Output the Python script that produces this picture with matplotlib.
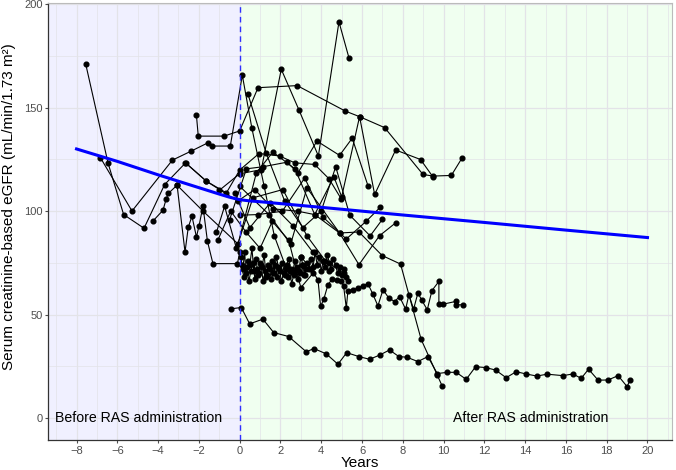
import matplotlib
matplotlib.use("Agg")
import matplotlib.pyplot as plt

plt.rcParams['font.family'] = ['Liberation Sans', 'DejaVu Sans']

# ---- trend line (blue) ----
trend_x = [-8, -6, -4, -2, -1, -0.5, 0, 0.5, 1, 4, 8, 12, 16, 20]
trend_y = [130, 124, 117.5, 111.3, 108.2, 106.7, 105.5, 104.9, 104.5, 101.8, 98.1, 94.5, 90.8, 87.2]

# ---- individual patient trajectories ----
p01_x = [-7.55, -6.45, -5.69, -4.69, -3.68, -2.65, -1.63, -0.1, 0.74, 1.63, 2.86, 3.68, 4.9, 5.85, 6.99, 7.89, 8.9, 9.69, 9.93]
p01_y = [171, 123, 98.3, 91.7, 112.8, 123.3, 114.4, 104.8, 110.4, 101.1, 99.9, 98.3, 89.4, 89.9, 78.5, 74.4, 38, 20.8, 15.5]

p02_x = [-6.83, -5.28, -3.3, -2.37, -1.55, -1.34, -0.46, 0.13, 0.6, 1.2, 1.7, 2.3]
p02_y = [125.8, 100, 124.6, 129, 133, 131.4, 131.4, 165.6, 140, 112, 88, 72]

p03_x = [-4.25, -3.76, -3.6, -3.5, -3.07, -2.68, -2.52, -2.34, -2.12, -1.99, -1.8, -1.58, -1.31, -0.11, 0.0]
p03_y = [95.2, 100.4, 106, 108.5, 112.5, 80.2, 92.2, 97.5, 87.5, 93, 102.3, 85.4, 74.6, 74.6, 80]

p04_x = [-2.12, -2.03, -0.77, 0.0, 0.9, 2.82, 5.18, 5.88, 7.11, 8.99, 9.48, 10.38, 10.91]
p04_y = [146.2, 136.2, 136.2, 138.7, 159.6, 160.6, 148.3, 145.6, 140.3, 117.7, 116.9, 117.2, 125.7]

p05_x = [-2.66, -1.63, -0.65, 0.0, 0.95, 1.96, 2.7, 3.68, 4.38, 4.98, 5.88, 6.62, 7.65, 8.87, 9.48]
p05_y = [123.3, 114.4, 108.8, 119.8, 127.8, 126.6, 123.3, 122.5, 115.6, 105.9, 145.6, 108, 129.5, 124.9, 116.5]

p06_x = [-0.41, 0.08, 0.49, 1.14, 1.67, 2.40, 3.27, 3.64, 4.25, 4.82, 5.25, 5.85, 6.37, 6.86, 7.35, 7.81, 8.2, 8.74, 9.23,
         9.69, 10.18, 10.62, 11.11, 11.57, 12.06, 12.55, 13.07, 13.56, 14.05, 14.57, 15.08, 15.85, 16.34, 16.75, 17.11,
         17.58, 18.07, 18.56, 19.0, 19.15]
p06_y = [52.8, 53.4, 45.5, 47.8, 41.3, 39.4, 32.0, 33.6, 31.0, 26.0, 31.6, 29.7, 28.4, 30.4, 32.9, 29.7, 29.4, 27.3, 29.7,
         21.5, 22.1, 22.1, 18.7, 24.8, 24.4, 23.2, 19.5, 22.4, 21.3, 20.3, 21.2, 20.5, 21.3, 19.2, 23.6,
         18.3, 18.4, 20.5, 15.2, 18.4]

p07_x = [0.05, 0.15, 0.25, 0.3, 0.4, 0.5, 0.6, 0.7, 0.8, 0.9, 1.0, 1.1, 1.2, 1.3, 1.4, 1.5, 1.6, 1.7, 1.8, 1.9, 2.0,
         2.1, 2.2, 2.3, 2.4, 2.5, 2.6, 2.7, 2.8, 2.9, 3.0, 3.1, 3.2, 3.3, 3.4, 3.5, 3.6, 3.7, 3.8, 3.9, 4.0, 4.1,
         4.2, 4.3, 4.4, 4.5, 4.6, 4.7, 4.8, 4.9, 5.0, 5.1, 5.2, 5.3]
p07_y = [78, 72, 80, 70, 76, 74, 82, 71, 77, 69, 75, 73, 79, 68, 74, 72, 76, 70, 78, 73, 71, 75, 69, 74, 77, 72,
         70, 76, 73, 71, 78, 74, 69, 75, 72, 77, 73, 80, 74, 78, 71, 76, 73, 79, 75, 72, 77, 74, 70, 73, 69, 72, 68, 66]

p08_x = [0.1, 0.2, 0.35, 0.45, 0.55, 0.65, 0.75, 0.85, 0.95, 1.05, 1.15, 1.25, 1.35, 1.45, 1.55, 1.65, 1.75, 1.85,
         1.95, 2.05, 2.15, 2.25, 2.35, 2.45, 2.55, 2.65, 2.75, 2.85, 2.95, 3.05, 3.15, 3.25]
p08_y = [74, 68, 73, 66, 71, 75, 67, 72, 70, 74, 66, 71, 69, 73, 67, 70, 74, 68, 72, 66, 70, 73, 68, 71, 65, 69,
         72, 67, 70, 74, 69, 72]

p09_x = [3.0, 3.5, 3.84, 3.97, 4.13, 4.33, 4.54, 4.77, 4.98, 5.1, 5.23, 5.31, 5.56, 5.8, 6.04, 6.29, 6.53, 6.78, 7.03,
         7.32, 7.6, 7.84, 8.14, 8.3, 8.53, 8.74, 8.94, 9.2, 9.43, 9.77, 9.77, 9.97, 10.62, 10.62, 10.95]
p09_y = [78, 72, 66.8, 53.9, 57.6, 64.4, 67.2, 66.8, 66, 63.6, 53.1, 61.6, 62, 62.8, 63.9, 64.9, 59.9, 54.2, 62,
         57.9, 56.3, 58.7, 52.6, 59.6, 52.6, 60.4, 56.8, 52.3, 61.6, 66, 55, 55, 56.4, 54.7, 54.7]

p10_x = [0.0, 0.9, 2.09, 3.19, 4.1, 5.23, 6.21, 6.9]
p10_y = [98, 98.3, 99.9, 116, 97, 86.5, 95.1, 101.9]

p11_x = [0.0, 1.44, 2.5, 3.3, 4.9, 5.85, 6.86, 7.65]
p11_y = [112, 98.3, 84, 111.2, 89.4, 74.1, 88.1, 94.3]

p12_x = [-1.0, 0.0, 1.06, 2.04, 2.91, 3.86, 4.87, 5.36]
p12_y = [110, 118, 120, 168.5, 148.8, 126.6, 191.4, 174]

p13_x = [-0.49, 0.33, 1.14, 2.32, 2.86, 3.79, 4.9, 5.52, 6.3]
p13_y = [95.9, 120.4, 121.4, 123.6, 118.5, 133.8, 126.9, 135.2, 112]

p14_x = [-3.07, -1.8, -0.08, 0.82, 1.63, 2.71, 3.68, 4.62, 5.0]
p14_y = [112.5, 100, 84.1, 118.5, 128.5, 120.4, 98.3, 116.5, 107]

p15_x = [-1.14, -0.74, -0.16, 0.65, 2.12, 3.3, 4.2, 5.1]
p15_y = [89.7, 102.3, 82, 106.4, 110.4, 88, 76, 70]

p16_x = [-1.06, -0.44, 0.3, 1.0, 1.6, 2.4, 3.0, 3.6]
p16_y = [86.2, 100, 90, 82, 95, 86, 63, 70]

p17_x = [0.41, 1.3, 2.2, 3.1, 4.0, 4.71, 5.4, 6.4, 7.0]
p17_y = [156.4, 128, 105, 92, 100, 121.4, 98, 88, 96]

p18_x = [-0.25, 0.5, 1.5, 2.6, 3.6, 4.4]
p18_y = [108.8, 92, 104, 93, 80, 71]


def main():
    fig = plt.figure(figsize=(6.76, 4.70), dpi=100)
    ax = fig.add_axes([0.071, 0.0638, 0.923, 0.9298])
    xlim = (-9.4, 21.2)
    ylim = (-10.6, 200.5)
    ax.set_xlim(*xlim)
    ax.set_ylim(*ylim)

    ax.axvspan(xlim[0], 0, color='#F0F0FF', zorder=0, lw=0)
    ax.axvspan(0, xlim[1], color='#F0FFF0', zorder=0, lw=0)

    # grid
    for gx in range(-9, 22):
        ax.axvline(gx, color='#E3E3E8', lw=0.9 if gx % 2 == 0 else 0.5, zorder=0.5)
    for gy in range(0, 201, 25):
        ax.axhline(gy, color='#E3E3E8', lw=0.9 if gy % 50 == 0 else 0.5, zorder=0.5)

    patients = [
        (p01_x, p01_y), (p02_x, p02_y), (p03_x, p03_y), (p04_x, p04_y), (p05_x, p05_y),
        (p06_x, p06_y), (p07_x, p07_y), (p08_x, p08_y), (p09_x, p09_y), (p10_x, p10_y),
        (p11_x, p11_y), (p12_x, p12_y), (p13_x, p13_y), (p14_x, p14_y), (p15_x, p15_y),
        (p16_x, p16_y), (p17_x, p17_y), (p18_x, p18_y),
    ]
    for px, py in patients:
        ax.plot(px, py, color='black', lw=0.8, marker='o', ms=3.4, zorder=3)

    ax.axvline(0, color='#2F2FFF', lw=1.0, ls=(0, (4, 3)), zorder=4)
    ax.plot(trend_x, trend_y, color='#0000FF', lw=2.2, zorder=5)

    ax.text(-9.05, 0, 'Before RAS administration', fontsize=10.2, va='center', ha='left', zorder=6)
    ax.text(14.25, 0, 'After RAS administration', fontsize=10.2, va='center', ha='center', zorder=6)

    ax.set_xticks(list(range(-8, 21, 2)))
    ax.set_yticks([0, 50, 100, 150, 200])
    ax.tick_params(axis='both', labelsize=8, colors='#4D4D4D', length=2.5, width=0.8, pad=1.5)
    ax.set_xlabel('Years', fontsize=11, labelpad=0)
    ax.set_ylabel('Serum creatinine-based eGFR (mL/min/1.73 m²)', fontsize=11)
    ax.yaxis.set_label_coords(-0.052, 0.535)

    for s in ['top', 'right']:
        ax.spines[s].set_color('#BBBBBB')
        ax.spines[s].set_linewidth(0.8)
    for s in ['left', 'bottom']:
        ax.spines[s].set_color('#333333')
        ax.spines[s].set_linewidth(0.9)

    fig.savefig('out.png', dpi=100)


main()
